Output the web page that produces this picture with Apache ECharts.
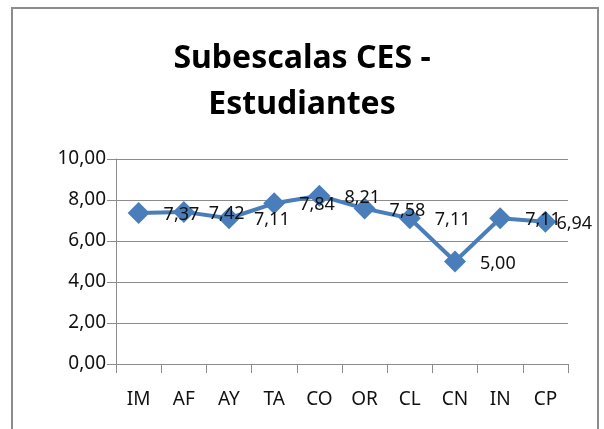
<!DOCTYPE html>
<html>
<head>
<meta charset="utf-8">
<script src="https://cdn.jsdelivr.net/npm/echarts@6/dist/echarts.min.js"></script>
<style>
  html, body { margin: 0; padding: 0; background: #fff; }
  #main { width: 604px; height: 429px; }
</style>
</head>
<body>
<div id="main"></div>
<script>
var categories = ['IM', 'AF', 'AY', 'TA', 'CO', 'OR', 'CL', 'CN', 'IN', 'CP'];
var values = [7.37, 7.42, 7.11, 7.84, 8.21, 7.58, 7.11, 5.00, 7.11, 6.94];
var yTicks = [0, 2, 4, 6, 8, 10];

var chart = echarts.init(document.getElementById('main'));

function comma(v) {
    return Number(v).toFixed(2).replace('.', ',');
}

// el último rótulo queda dentro del área del gráfico
var seriesData = values.map(function (v, i) {
    if (i === values.length - 1) {
        return { value: v, label: { distance: 0 } };
    }
    return v;
});

var option = {
    animation: false,
    title: {
        text: 'Subescalas CES -\nEstudiantes',
        left: 'center',
        top: 31,
        textStyle: {
            fontFamily: 'Noto Sans',
            fontWeight: 'bold',
            fontSize: 32,
            lineHeight: 46,
            color: '#000'
        }
    },
    graphic: [{
        type: 'rect',
        shape: { x: 12, y: 8, width: 586, height: 430 },
        style: { fill: 'none', stroke: '#8c8c8c', lineWidth: 2 },
        silent: true
    }],
    grid: { left: 116, right: 36, top: 159, bottom: 65 },
    xAxis: {
        type: 'category',
        data: categories,
        boundaryGap: true,
        axisLine: { lineStyle: { color: '#8c8c8c', width: 1 } },
        axisTick: { show: true, length: 9, alignWithLabel: false, lineStyle: { color: '#8c8c8c' } },
        axisLabel: { fontFamily: 'Noto Sans', fontSize: 19, color: '#111', margin: 26 }
    },
    yAxis: {
        type: 'value',
        min: yTicks[0],
        max: yTicks[yTicks.length - 1],
        interval: 2,
        axisLine: { show: true, lineStyle: { color: '#8c8c8c', width: 1 } },
        axisTick: { show: true, length: 9, lineStyle: { color: '#8c8c8c' } },
        splitLine: { lineStyle: { color: '#8c8c8c', width: 1 } },
        axisLabel: {
            fontFamily: 'Noto Sans', fontSize: 19, color: '#111', margin: 10,
            formatter: function (v) { return comma(v); }
        }
    },
    series: [{
        type: 'line',
        data: seriesData,
        symbol: 'diamond',
        symbolSize: 22,
        lineStyle: { color: '#4a7ebb', width: 4 },
        itemStyle: { color: '#4a7ebb' },
        label: {
            show: true,
            position: 'right',
            distance: 14,
            offset: [0, 2],
            fontFamily: 'Noto Sans',
            fontSize: 18,
            color: '#111',
            formatter: function (p) { return comma(p.value); }
        }
    }]
};
chart.setOption(option);
</script>
</body>
</html>
